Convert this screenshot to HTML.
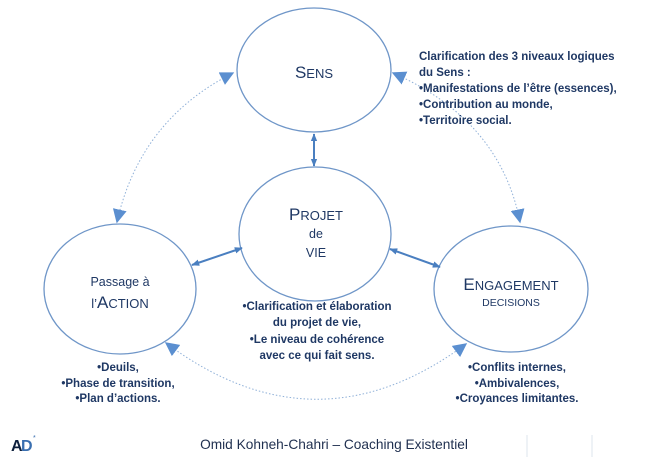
<!DOCTYPE html>
<html><head><meta charset="utf-8"><style>
html,body{margin:0;padding:0;background:#fff;width:658px;height:457px;overflow:hidden}
text{font-family:"Liberation Sans",sans-serif;fill:#1f3864}
.b text{font-weight:bold}
</style></head><body>
<svg width="658" height="457" viewBox="0 0 658 457" xmlns="http://www.w3.org/2000/svg">
<defs>
<marker id="t" viewBox="0 0 10 10" refX="9" refY="5" markerWidth="14" markerHeight="14" orient="auto-start-reverse" markerUnits="userSpaceOnUse"><path d="M0,0 L10,5 L0,10 z" fill="#5b8fd0"/></marker>
<marker id="s" viewBox="0 0 10 10" refX="9" refY="5" markerWidth="8" markerHeight="8" orient="auto-start-reverse" markerUnits="userSpaceOnUse"><path d="M0,1 L10,5 L0,9 z" fill="#4a7fc0"/></marker>
</defs>
<g fill="#fff" stroke="#6f96c8" stroke-width="1.3">
<ellipse cx="314" cy="70" rx="77" ry="62"/>
<ellipse cx="315" cy="234" rx="76" ry="67"/>
<ellipse cx="120" cy="289" rx="76" ry="65"/>
<ellipse cx="511" cy="289" rx="77" ry="63"/>
</g>
<g fill="none" stroke="#8fb0d8" stroke-width="1" stroke-dasharray="1.5,2">
<path d="M233,73 Q140,120 117,222" marker-start="url(#t)" marker-end="url(#t)"/>
<path d="M393,73 Q500,120 520,222" marker-start="url(#t)" marker-end="url(#t)"/>
<path d="M166,343 Q316,455 466,344" marker-start="url(#t)" marker-end="url(#t)"/>
</g>
<g stroke="#4a7fc0" stroke-width="2" fill="none">
<line x1="314" y1="134" x2="314" y2="166" marker-start="url(#s)" marker-end="url(#s)"/>
<line x1="242" y1="248" x2="192" y2="265" marker-start="url(#s)" marker-end="url(#s)"/>
<line x1="390" y1="249" x2="440" y2="267" marker-start="url(#s)" marker-end="url(#s)"/>
</g>
<text x="314" y="78" text-anchor="middle" font-size="13"><tspan font-size="17">S</tspan>ENS</text>
<text x="316" y="220" text-anchor="middle" font-size="13"><tspan font-size="17">P</tspan>ROJET</text>
<text x="316" y="238" text-anchor="middle" font-size="12.5">de</text>
<text x="316" y="257" text-anchor="middle" font-size="12.5">VIE</text>
<text x="120" y="286" text-anchor="middle" font-size="12.5">Passage à</text>
<text x="120" y="308" text-anchor="middle" font-size="13">l’<tspan font-size="17">A</tspan>CTION</text>
<text x="511" y="290" text-anchor="middle" font-size="13"><tspan font-size="17">E</tspan>NGAGEMENT</text>
<text x="511" y="306" text-anchor="middle" font-size="10.5">DECISIONS</text>
<g class="b" font-size="11.5">
<text x="419" y="60">Clarification des 3 niveaux logiques</text>
<text x="419" y="76">du Sens :</text>
<text x="419" y="92">•Manifestations de l’être (essences),</text>
<text x="419" y="108">•Contribution au monde,</text>
<text x="419" y="124">•Territoire social.</text>
</g>
<g class="b" text-anchor="middle" font-size="11.5">
<text x="317" y="310">•Clarification et élaboration</text>
<text x="317" y="326">du projet de vie,</text>
<text x="317" y="343">•Le niveau de cohérence</text>
<text x="317" y="359">avec ce qui fait sens.</text>
<text x="118" y="371">•Deuils,</text>
<text x="118" y="387">•Phase de transition,</text>
<text x="118" y="402">•Plan d’actions.</text>
<text x="517" y="371">•Conflits internes,</text>
<text x="517" y="387">•Ambivalences,</text>
<text x="517" y="402">•Croyances limitantes.</text>
</g>
<text x="11" y="451" font-size="16" font-weight="bold" style="fill:#0d1f3c">A</text>
<text x="21" y="451" font-size="16" font-weight="bold" style="fill:#3a6fb0">D</text>
<text x="33" y="440" font-size="7" style="fill:#3a6fb0">*</text>
<text x="334" y="449" text-anchor="middle" font-size="13.7" style="fill:#1f2f4f">Omid Kohneh-Chahri – Coaching Existentiel</text>
<line x1="527" y1="435" x2="527" y2="457" stroke="#dce4ee"/>
<line x1="592" y1="435" x2="592" y2="457" stroke="#dce4ee"/>
</svg>
</body></html>
